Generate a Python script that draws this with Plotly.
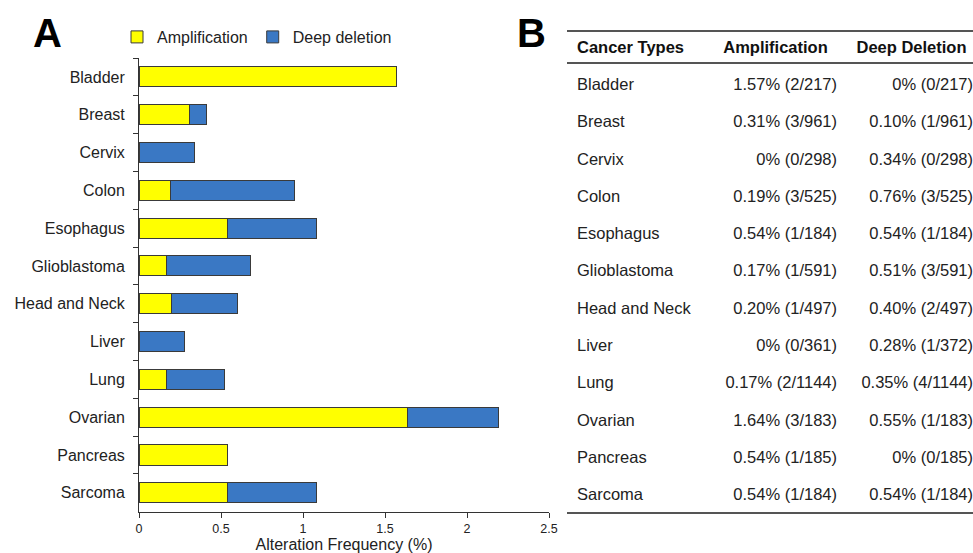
import plotly.graph_objects as go

# ---------------- data ----------------
cancer_types = ["Bladder", "Breast", "Cervix", "Colon", "Esophagus", "Glioblastoma",
                "Head and Neck", "Liver", "Lung", "Ovarian", "Pancreas", "Sarcoma"]
amplification = [1.57, 0.31, 0.0, 0.19, 0.54, 0.17, 0.20, 0.0, 0.17, 1.64, 0.54, 0.54]
deep_deletion = [0.0, 0.10, 0.34, 0.76, 0.54, 0.51, 0.40, 0.28, 0.35, 0.55, 0.0, 0.54]
amp_labels = ["1.57% (2/217)", "0.31% (3/961)", "0% (0/298)", "0.19% (3/525)",
              "0.54% (1/184)", "0.17% (1/591)", "0.20% (1/497)", "0% (0/361)",
              "0.17% (2/1144)", "1.64% (3/183)", "0.54% (1/185)", "0.54% (1/184)"]
del_labels = ["0% (0/217)", "0.10% (1/961)", "0.34% (0/298)", "0.76% (3/525)",
              "0.54% (1/184)", "0.51% (3/591)", "0.40% (2/497)", "0.28% (1/372)",
              "0.35% (4/1144)", "0.55% (1/183)", "0% (0/185)", "0.54% (1/184)"]
table_headers = ["Cancer Types", "Amplification", "Deep Deletion"]
x_ticks = [0, 0.5, 1, 1.5, 2, 2.5]
x_title = "Alteration Frequency (%)"
series_names = ["Amplification", "Deep deletion"]

# ---------------- style / layout ----------------
W, H = 973, 553
FONT = "Liberation Sans, Arial, sans-serif"
YELLOW = "#FFFF00"
BLUE = "#3A78C4"
EDGE = "#3a3a3a"
TXT = "#222222"
RULE = "#555555"

TABLE_LEFT_PX = 567
TABLE_W = W - TABLE_LEFT_PX
# table column anchors in table-axis units (pixels from the table's left edge)
COL_TEXT_X = [10, 270, TABLE_W]       # left / right / right anchors for body text
COL_HEAD_X = [10, 208.5, 344.5]       # header anchors (left, centre, centre)
TABLE_ROW0_PX = 48.5                  # header row centre
TABLE_ROW_STEP = 37.3


def px_x(p):
    return p / W


def px_y(p):
    return 1 - p / H


fig = go.Figure()

# ---- panel A: stacked horizontal bars ----
fig.add_trace(go.Bar(
    y=cancer_types, x=amplification, orientation="h", name=series_names[0],
    marker=dict(color=YELLOW, line=dict(color=EDGE, width=1)),
    xaxis="x", yaxis="y",
))
fig.add_trace(go.Bar(
    y=cancer_types, x=deep_deletion, orientation="h", name=series_names[1],
    marker=dict(color=BLUE, line=dict(color=EDGE, width=1)),
    xaxis="x", yaxis="y",
))

# ---- panel B: table drawn as text on its own axes ----
row_idx = list(range(1, len(cancer_types) + 1))
body_cols = [cancer_types, amp_labels, del_labels]
body_pos = ["middle right", "middle left", "middle left"]
for ci, col in enumerate(body_cols):
    fig.add_trace(go.Scatter(
        x=[COL_TEXT_X[ci]] * len(col), y=row_idx, text=col, mode="text",
        textposition=body_pos[ci], cliponaxis=False, showlegend=False,
        textfont=dict(family=FONT, size=16.5, color=TXT),
        hoverinfo="skip", xaxis="x2", yaxis="y2",
    ))
head_pos = ["middle right", "middle center", "middle center"]
for ci, h in enumerate(table_headers):
    fig.add_trace(go.Scatter(
        x=[COL_HEAD_X[ci]], y=[0], text=["<b>%s</b>" % h], mode="text",
        textposition=head_pos[ci], cliponaxis=False, showlegend=False,
        textfont=dict(family=FONT, size=16.5, color="#111111"),
        hoverinfo="skip", xaxis="x2", yaxis="y2",
    ))

top_px, bot_px, mid_px = 32, 512, 63
y_top = (top_px - TABLE_ROW0_PX) / TABLE_ROW_STEP
y_bot = (bot_px - TABLE_ROW0_PX) / TABLE_ROW_STEP
y_mid = (mid_px - TABLE_ROW0_PX) / TABLE_ROW_STEP

shapes = [dict(type="line", xref="x2 domain", yref="y2", x0=0, x1=1,
               y0=y_mid, y1=y_mid, line=dict(color=RULE, width=2))]

fig.update_layout(
    width=W, height=H, autosize=False,
    margin=dict(l=0, r=0, t=0, b=0, pad=0),
    paper_bgcolor="white", plot_bgcolor="white",
    barmode="stack", bargap=0.47,
    font=dict(family=FONT, color=TXT),
    showlegend=True,
    legend=dict(orientation="h", x=px_x(117), xanchor="left",
                y=px_y(37), yanchor="middle",
                font=dict(family=FONT, size=16, color=TXT),
                bgcolor="rgba(0,0,0,0)", traceorder="normal"),
    xaxis=dict(
        domain=[px_x(139), px_x(549)], range=[0, 2.5],
        tickvals=x_ticks, ticktext=[("%g" % v) for v in x_ticks],
        showline=True, linecolor="#333333", linewidth=1,
        ticks="outside", ticklen=5, tickcolor="#333333",
        showgrid=False, zeroline=False,
        tickfont=dict(family=FONT, size=12.5, color=TXT),
        title=dict(text=x_title, font=dict(family=FONT, size=16, color=TXT), standoff=4),
        anchor="y", fixedrange=True, automargin=False,
    ),
    yaxis=dict(
        domain=[px_y(511.7), px_y(58)],
        type="category", categoryorder="array", categoryarray=cancer_types,
        autorange="reversed",
        tickson="boundaries", ticks="outside", ticklen=5, tickcolor="#333333",
        showline=True, linecolor="#333333", linewidth=1,
        showgrid=False, zeroline=False,
        tickfont=dict(family=FONT, size=16, color=TXT),
        ticklabelstandoff=10,
        anchor="x", fixedrange=True, automargin=False,
    ),
    xaxis2=dict(
        domain=[px_x(TABLE_LEFT_PX), 1.0], range=[0, TABLE_W],
        showline=True, mirror=True, linecolor=RULE, linewidth=2,
        showticklabels=False, ticks="", showgrid=False, zeroline=False,
        anchor="y2", fixedrange=True, automargin=False,
    ),
    yaxis2=dict(
        domain=[px_y(bot_px), px_y(top_px)], range=[y_bot, y_top],
        showline=False, showticklabels=False, ticks="", showgrid=False,
        zeroline=False, anchor="x2", fixedrange=True, automargin=False,
    ),
    shapes=shapes,
    annotations=[
        dict(text="<b>A</b>", x=px_x(31), y=px_y(33), xref="paper", yref="paper",
             xanchor="left", yanchor="middle", showarrow=False,
             font=dict(family=FONT, size=40, color="black")),
        dict(text="<b>B</b>", x=px_x(515), y=px_y(33), xref="paper", yref="paper",
             xanchor="left", yanchor="middle", showarrow=False,
             font=dict(family=FONT, size=40, color="black")),
    ],
)

fig.write_html(
    "out.html",
    config={"displayModeBar": False, "responsive": False},
    post_script="document.body.style.margin='0';document.body.style.overflow='hidden';",
)
